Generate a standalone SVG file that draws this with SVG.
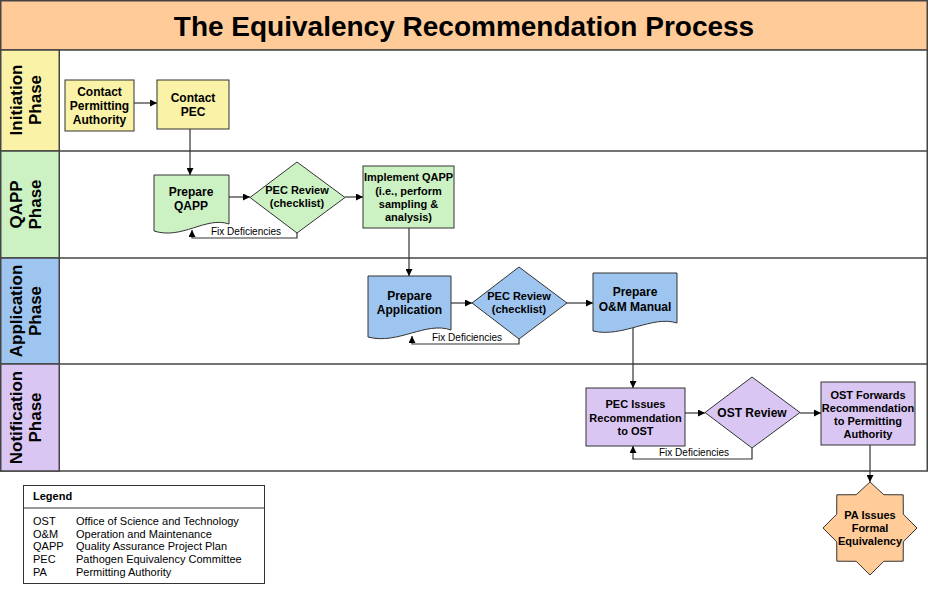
<svg xmlns="http://www.w3.org/2000/svg" width="928" height="593" viewBox="0 0 928 593">
<defs>
<style>
text{font-family:"Liberation Sans",Arial,sans-serif;fill:#000}
.t{font-size:12px;font-weight:bold;text-anchor:middle}
.s{font-size:11px;font-weight:bold;text-anchor:middle}
.h{font-size:17px;font-weight:bold;text-anchor:middle}
.fx{font-size:10px}
.lg{font-size:11px}
.node{stroke:#333;stroke-width:1}
.yel{fill:#FAF2A6}.grn{fill:#CCF2C4}.blu{fill:#9EC5EF}.pur{fill:#DAC6F3}.org{fill:#FFCC99}
.con{fill:none;stroke:#333;stroke-width:1.2}
.lane{stroke:#444;stroke-width:1.5}
</style>
<marker id="ah" viewBox="0 0 10 10" refX="10" refY="5" markerWidth="7" markerHeight="7" markerUnits="userSpaceOnUse" orient="auto">
<path d="M0,0 L10,5 L0,10 z" fill="#000"/>
</marker>
</defs>
<rect width="928" height="593" fill="#fff"/>
<g id="title">
<rect x="0.75" y="0.75" width="926.5" height="49.5" class="org lane"/>
<text x="464" y="36" style="font-size:28px;font-weight:bold;text-anchor:middle">The Equivalency Recommendation Process</text>
</g>
<g id="lanes">
<rect x="0.75" y="50" width="926.5" height="421" fill="#fff" class="lane"/>
<rect x="0.75" y="50" width="58.5" height="101" class="yel lane"/>
<rect x="0.75" y="151" width="58.5" height="107" class="grn lane"/>
<rect x="0.75" y="258" width="58.5" height="106" class="blu lane"/>
<rect x="0.75" y="364" width="58.5" height="107" class="pur lane"/>
<line x1="59" y1="151" x2="927" y2="151" class="lane"/>
<line x1="59" y1="258" x2="927" y2="258" class="lane"/>
<line x1="59" y1="364" x2="927" y2="364" class="lane"/>
<text class="h" transform="translate(22,100) rotate(-90)">Initiation</text>
<text class="h" transform="translate(41,100) rotate(-90)">Phase</text>
<text class="h" transform="translate(22,204.5) rotate(-90)">QAPP</text>
<text class="h" transform="translate(41,204.5) rotate(-90)">Phase</text>
<text class="h" transform="translate(22,311) rotate(-90)">Application</text>
<text class="h" transform="translate(41,311) rotate(-90)">Phase</text>
<text class="h" transform="translate(22,417.5) rotate(-90)">Notification</text>
<text class="h" transform="translate(41,417.5) rotate(-90)">Phase</text>
</g>
<g id="connectors">
<line x1="134" y1="103" x2="157" y2="103" class="con" marker-end="url(#ah)"/>
<line x1="190" y1="129" x2="190" y2="175" class="con" marker-end="url(#ah)"/>
<line x1="229" y1="197" x2="250" y2="197" class="con" marker-end="url(#ah)"/>
<line x1="345" y1="197" x2="363" y2="197" class="con" marker-end="url(#ah)"/>
<polyline points="297,233 297,238 192,238 192,230" class="con" marker-end="url(#ah)"/>
<line x1="409" y1="228" x2="409" y2="276" class="con" marker-end="url(#ah)"/>
<line x1="451" y1="303" x2="472" y2="303" class="con" marker-end="url(#ah)"/>
<line x1="567" y1="303" x2="593" y2="303" class="con" marker-end="url(#ah)"/>
<polyline points="519,339 519,344 412,344 412,336" class="con" marker-end="url(#ah)"/>
<line x1="633" y1="328" x2="633" y2="388" class="con" marker-end="url(#ah)"/>
<line x1="685" y1="413" x2="705" y2="413" class="con" marker-end="url(#ah)"/>
<line x1="800" y1="413" x2="821" y2="413" class="con" marker-end="url(#ah)"/>
<polyline points="752,448 752,459 633,459 633,446" class="con" marker-end="url(#ah)"/>
<line x1="870" y1="445" x2="870" y2="482" class="con" marker-end="url(#ah)"/>
<text class="fx" x="211" y="235">Fix Deficiencies</text>
<text class="fx" x="432" y="341">Fix Deficiencies</text>
<text class="fx" x="659" y="456">Fix Deficiencies</text>
</g>
<g id="contact-pa">
<rect x="65" y="80" width="69" height="51" class="node yel"/>
<text class="t" x="99.5" y="96">Contact</text>
<text class="t" x="99.5" y="110">Permitting</text>
<text class="t" x="99.5" y="124">Authority</text>
</g>
<g id="contact-pec">
<rect x="157" y="80" width="72" height="49" class="node yel"/>
<text class="t" x="193" y="102">Contact</text>
<text class="t" x="193" y="116">PEC</text>
</g>
<g id="prepare-qapp">
<path d="M154,175 H229 V224 C206,216 182,240 154,231 Z" class="node grn"/>
<text class="t" x="191" y="196">Prepare</text>
<text class="t" x="191" y="210">QAPP</text>
</g>
<g id="pec-review-1">
<polygon points="297,162 345,197.5 297,233 250,197.5" class="node grn"/>
<text class="s" x="297" y="194">PEC Review</text>
<text class="s" x="297" y="207">(checklist)</text>
</g>
<g id="implement-qapp">
<rect x="363" y="166" width="91" height="62" class="node grn"/>
<text class="s" x="408.5" y="181">Implement QAPP</text>
<text class="s" x="408.5" y="195">(i.e., perform</text>
<text class="s" x="408.5" y="208">sampling &amp;</text>
<text class="s" x="408.5" y="221">analysis)</text>
</g>
<g id="prepare-application">
<path d="M368,276 H451 V330 C426,321 398,345 368,337 Z" class="node blu"/>
<text class="t" x="409.5" y="300">Prepare</text>
<text class="t" x="409.5" y="314">Application</text>
</g>
<g id="pec-review-2">
<polygon points="519,267 567,303 519,339 472,303" class="node blu"/>
<text class="s" x="519" y="300">PEC Review</text>
<text class="s" x="519" y="313">(checklist)</text>
</g>
<g id="prepare-om">
<path d="M593,273 H677 V323 C652,315 623,338 593,331 Z" class="node blu"/>
<text class="t" x="635" y="296">Prepare</text>
<text class="t" x="635" y="311">O&amp;M Manual</text>
</g>
<g id="pec-issues">
<rect x="586" y="388" width="99" height="58" class="node pur"/>
<text class="s" x="635.5" y="408">PEC Issues</text>
<text class="s" x="635.5" y="422">Recommendation</text>
<text class="s" x="635.5" y="435">to OST</text>
</g>
<g id="ost-review">
<polygon points="752,377 800,412.5 752,448 705,412.5" class="node pur"/>
<text class="t" x="752" y="417">OST Review</text>
</g>
<g id="ost-forwards">
<rect x="821" y="382" width="94" height="63" class="node pur"/>
<text class="s" x="868" y="399">OST Forwards</text>
<text class="s" x="868" y="412">Recommendation</text>
<text class="s" x="868" y="425">to Permitting</text>
<text class="s" x="868" y="438">Authority</text>
</g>
<g id="pa-issues">
<polygon points="870,482 883.8,494.7 903.2,494.8 903.3,514.2 917,528 903.3,541.8 903.2,561.2 883.8,561.3 870,575 856.2,561.3 836.8,561.2 836.7,541.8 823,528 836.7,514.2 836.8,494.8 856.2,494.7" class="node org"/>
<text class="s" x="870" y="519">PA Issues</text>
<text class="s" x="870" y="532">Formal</text>
<text class="s" x="870" y="545">Equivalency</text>
</g>
<g id="legend">
<rect x="23.5" y="485.5" width="241" height="98" fill="#fff" stroke="#333" stroke-width="1"/>
<line x1="23.5" y1="508" x2="264.5" y2="508" stroke="#333" stroke-width="1"/>
<text class="lg" x="33" y="500" style="font-weight:bold">Legend</text>
<text class="lg" x="33" y="525">OST</text><text class="lg" x="76" y="525">Office of Science and Technology</text>
<text class="lg" x="33" y="538">O&amp;M</text><text class="lg" x="76" y="538">Operation and Maintenance</text>
<text class="lg" x="33" y="550">QAPP</text><text class="lg" x="76" y="550">Quality Assurance Project Plan</text>
<text class="lg" x="33" y="563">PEC</text><text class="lg" x="76" y="563">Pathogen Equivalency Committee</text>
<text class="lg" x="33" y="576">PA</text><text class="lg" x="76" y="576">Permitting Authority</text>
</g>
</svg>
